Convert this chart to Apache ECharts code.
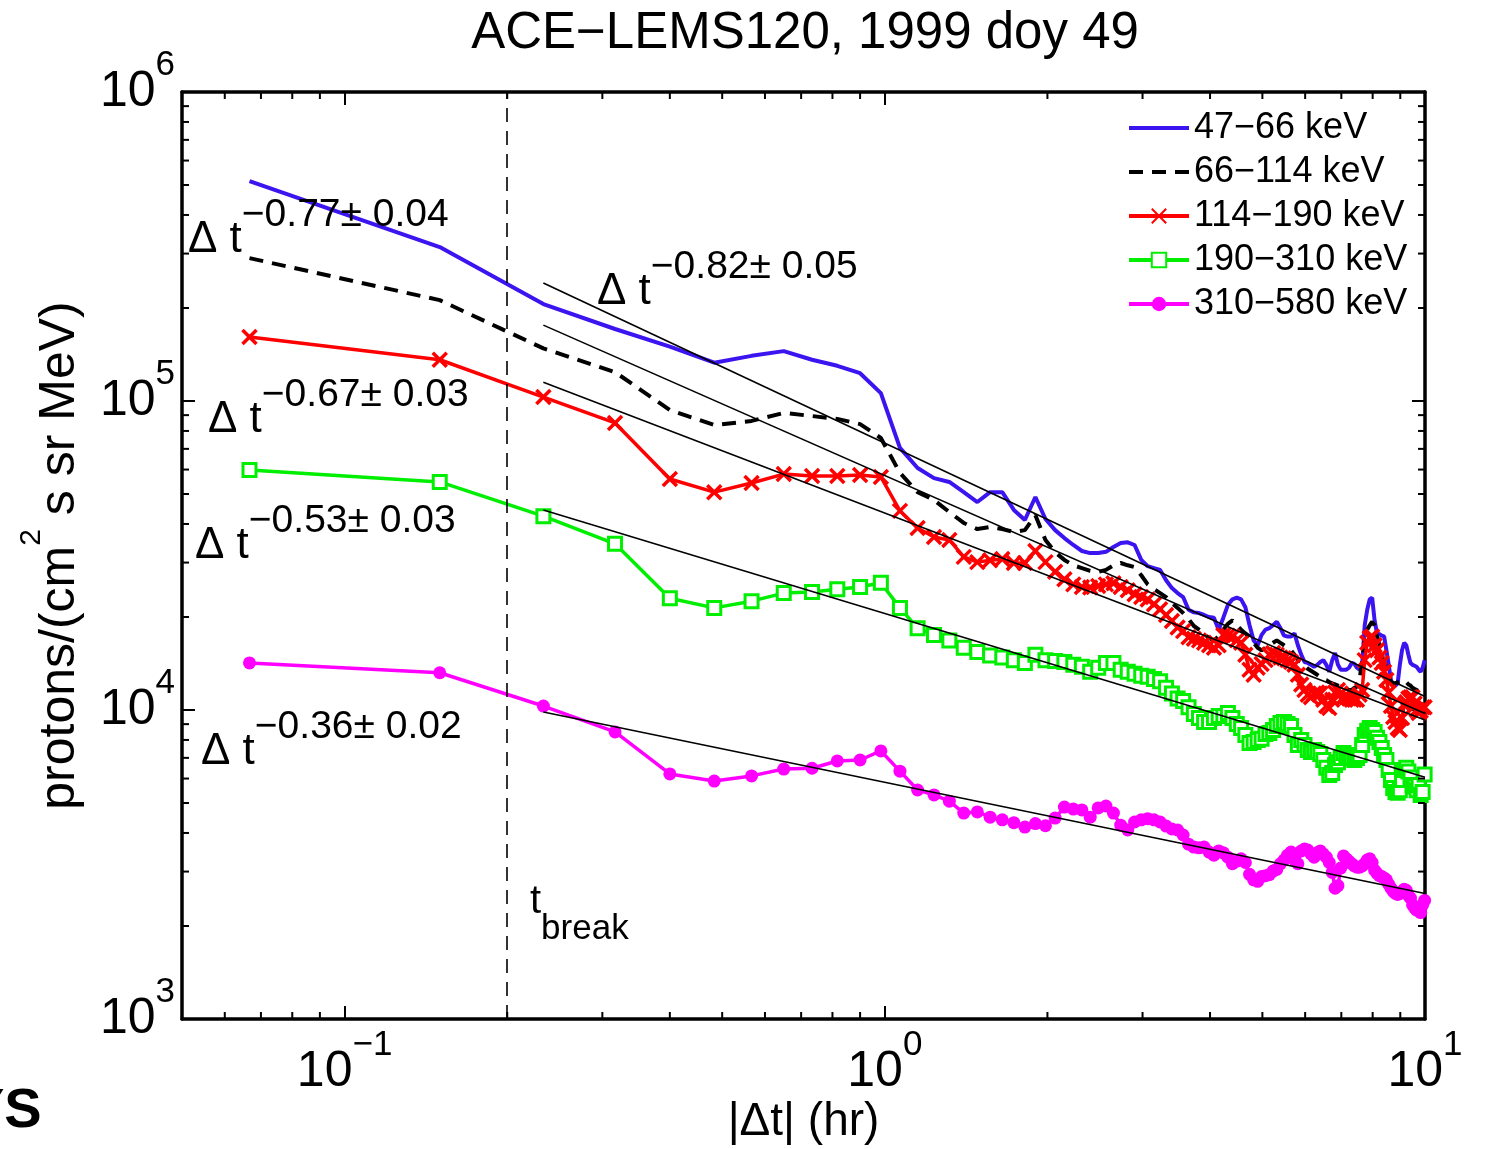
<!DOCTYPE html>
<html><head><meta charset="utf-8">
<script src="https://cdn.jsdelivr.net/npm/echarts@6/dist/echarts.min.js"></script>
<style>html,body{margin:0;padding:0;background:#fff}#c{width:1485px;height:1149px}</style>
</head><body><div id="c"></div>
<script>
// ---------- DATA ----------
const titleText = 'ACE\u2212LEMS120, 1999 doy 49';
const seriesNames = ['47\u221266 keV', '66\u2212114 keV', '114\u2212190 keV', '190\u2212310 keV', '310\u2212580 keV'];
// time after crossing, minutes
const minutes = [4,9,14,19,24,29,34,39,44,49,54,59,64,69,74,79,84,89,94,99,
104,109,114,119,124,129,134,139,144,149,154,159,164,169,174,179,184,189,194,199,
204,209,214,219,224,229,234,239,244,249,254,259,264,269,274,279,284,289,294,299,
304,309,314,319,324,329,334,339,344,349,354,359,364,369,374,379,384,389,394,399,
404,409,414,419,424,429,434,439,444,449,454,459,464,469,474,479,484,489,494,499,
504,509,514,519,524,529,534,539,544,549,554,559,564,569,574,579,584,589,594,599];
const flux47 = [515000,315000,206000,171000,150000,133000,140000,145000,136000,130000,
123000,106000,70500,60700,56300,54700,50700,47100,50700,50700,
44400,41200,48900,41500,38200,36000,34200,32700,32200,32200,
32500,33700,34700,34900,34200,30600,29200,28800,28400,26300,
24800,23900,23200,21100,20700,20600,20300,20000,19900,18200,
19900,21900,22800,23100,22800,21500,18800,16800,16200,17500,
18200,18400,18800,19300,18400,17400,17300,17300,17700,16200,
15100,14300,14200,14000,13800,14000,14300,14500,14000,13300,
14500,15300,14000,13500,13500,13500,13700,14200,14100,13700,
13500,14000,18800,21100,22800,23100,19500,17700,17600,17400,
17300,15600,14000,12500,11900,12000,12200,14000,15600,16500,
16200,15100,14200,14000,13900,13800,13500,13300,13700,14500];
const flux66 = [290000,212000,148000,124000,93500,83600,86200,91500,89400,87500,
84200,75900,58500,50700,47800,43700,40300,38500,39100,38500,
37700,38200,42700,35500,32400,30600,29400,28800,28200,28000,
28400,29400,29900,29400,29000,27300,25500,24600,23900,23200,
22200,21400,20600,19700,18700,18200,17600,17100,16800,17300,
18200,19000,19500,18800,18200,17700,17300,16500,15900,15600,
15900,16200,16500,16800,16500,16200,15900,15600,15100,14500,
14300,13900,13600,13400,13200,13000,12800,12600,12500,12300,
12200,12100,12000,11900,11800,11700,11600,11600,11800,11900,
12500,14500,16800,18200,18800,19300,18800,17400,16200,15100,
14200,13500,12800,12300,12100,12200,12300,12400,12500,12500,
12300,12100,12000,11800,11700,11600,11500,11400,11400,11300];
const flux114 = [161000,136000,103000,84900,55900,50700,54300,58000,57200,57200,
57600,56800,44100,38800,36300,35500,31300,30100,30500,30800,
29900,29900,32700,30100,28000,26500,25500,25000,24900,25200,
25500,25700,25000,24400,23700,23200,22800,22000,21200,20300,
19400,18500,18000,17200,17000,16800,16500,16200,15900,16200,
17500,17400,17300,16800,16500,15100,13500,13000,13700,14100,
14500,15100,15300,15100,14800,14700,14500,14300,14000,13000,
12100,11600,11200,11000,11300,11400,11300,10800,10300,10150,
10800,11400,11600,11300,11000,11000,10900,10800,10800,10800,
11200,11600,14500,16500,17100,17300,16200,15600,14800,14200,
13300,12500,11400,10300,9490,9150,8750,8620,9420,10400,
10600,10900,11000,11000,10500,10000,9780,9930,10200,10200];
const flux190 = [59800,54700,42400,34500,23000,21400,22500,23900,24100,24600,
25000,25800,21400,18400,17500,16800,15900,15400,15000,14800,
14500,14200,15100,14500,14400,14300,14000,13800,13300,13700,
14200,14200,13500,13300,13100,12900,12800,12600,12400,11800,
11300,10900,10700,10200,9710,9420,9150,9150,9420,9560,
9560,9780,9420,9010,8750,8300,7820,7880,8000,8070,
8360,8420,8620,8870,9080,9150,9010,8870,8300,7700,
8000,7700,7420,7310,7420,7310,7200,6890,6500,6160,
6250,6640,6780,6990,7260,7150,7050,6990,6890,6990,
7150,7700,8300,8560,8750,8620,8490,8130,7880,7530,
7150,6890,6390,5940,5590,5430,5400,5500,5940,6390,
6500,6320,6050,5720,5650,5500,5720,5310,5430,6180];
const flux310 = [14200,13200,10300,8490,6210,5890,6120,6440,6480,6840,
6890,7370,6340,5510,5310,5070,4640,4680,4500,4410,
4320,4180,4290,4220,4470,4850,4780,4750,4500,4820,
4890,4640,4240,4090,4340,4410,4450,4410,4340,4210,
4120,4090,3940,3680,3600,3580,3600,3470,3390,3500,
3450,3340,3180,3240,3300,3210,2940,2820,2790,2890,
2910,2930,3010,3050,3180,3270,3390,3470,3270,3180,
3500,3550,3520,3420,3340,3450,3500,3420,3340,3210,
2980,2650,2700,3080,3370,3300,3240,3180,3130,3100,
3100,3130,3180,3270,3300,3210,3030,2960,2910,2890,
2860,2820,2730,2650,2590,2550,2530,2550,2590,2630,
2610,2510,2460,2340,2290,2250,2290,2210,2340,2420];
// power-law fits: start/end x (hr) and values
const fitX = [0.2333, 10];
const fitStart = [241000, 176000, 115000, 44400, 9850];
const fitEnd = [11060, 9740, 9280, 6060, 2546];
const fitLabels = ['\u22120.82\u00b1 0.05', '\u22120.77\u00b1 0.04', '\u22120.67\u00b1 0.03', '\u22120.53\u00b1 0.03', '\u22120.36\u00b1 0.02'];
const tBreak = 0.2;
// axes
const X_MIN = 0.05, X_MAX = 10, Y_MIN = 1000, Y_MAX = 1000000;
const xMinorTicks = [0.06,0.07,0.08,0.09,0.2,0.3,0.4,0.5,0.6,0.7,0.8,0.9,2,3,4,5,6,7,8,9];
const yMinorTicks = [2000,3000,4000,5000,6000,7000,8000,9000,20000,30000,40000,50000,60000,70000,80000,90000,
  200000,300000,400000,500000,600000,700000,800000,900000];
const xTickExps = [-1, 0, 1];
const yTickExps = [3, 4, 5, 6];

// ---------- STYLE ----------
const F = 'Liberation Sans';
const BLUE = '#3c14f0', RED = '#ff0000', GREEN = '#00ee00', MAG = '#ff00ff';
const hours = minutes.map(m => m / 60);
const pair = vals => vals.map((v, i) => [hours[i], v]);
const minusStr = e => (e < 0 ? '\u2212' + (-e) : String(e));
function powLabel(exps) {
  return function (v) {
    const l = Math.log10(v), e = Math.round(l);
    if (Math.abs(l - e) > 1e-6 || exps.indexOf(e) < 0) return '';
    return '{b|10}{s|' + minusStr(e) + '}';
  };
}
const tickRich = {
  b: {fontSize: 50, lineHeight: 50, fontFamily: F, color: '#000'},
  s: {fontSize: 35, lineHeight: 88, fontFamily: F, color: '#000', verticalAlign: 'top'}
};
const axisLineStyle = {color: '#000', width: 3.5};
function xAx(pos, showLabel) {
  return {
    type: 'log', logBase: 10, min: X_MIN, max: X_MAX, position: pos,
    axisLine: {show: true, onZero: false, lineStyle: axisLineStyle},
    axisTick: {show: true, inside: true, length: 13, lineStyle: {color: '#000', width: 2}},
    splitLine: {show: false}, minorTick: {show: false},
    axisLabel: {show: showLabel, margin: 9, formatter: powLabel(xTickExps), rich: tickRich, hideOverlap: false,
      showMinLabel: true, showMaxLabel: true},
    name: showLabel ? '|\u0394t| (hr)' : '', nameLocation: 'middle', nameGap: 80, nameMoveOverlap: false,
    nameTextStyle: {fontSize: 46, fontFamily: F, color: '#000', lineHeight: 46}
  };
}
function yAx(pos, showLabel) {
  return {
    type: 'log', logBase: 10, min: Y_MIN, max: Y_MAX, position: pos,
    axisLine: {show: true, onZero: false, lineStyle: axisLineStyle},
    axisTick: {show: true, inside: true, length: 13, lineStyle: {color: '#000', width: 2}},
    splitLine: {show: false}, minorTick: {show: false},
    axisLabel: {show: showLabel, margin: 7, formatter: powLabel(yTickExps), rich: tickRich, hideOverlap: false,
      showMinLabel: true, showMaxLabel: true},
    name: showLabel ? 'protons/(cm{s|2} s sr MeV)' : '', nameLocation: 'middle', nameGap: 79, nameRotate: 90,
    nameMoveOverlap: false,
    nameTextStyle: {fontSize: 50, fontFamily: F, color: '#000', lineHeight: 50,
      rich: {s: {fontSize: 30, lineHeight: 86, fontFamily: F, color: '#000', verticalAlign: 'top'}}}
  };
}
const MINOR = 7;
const tickLine = (x1, y1, x2, y2) => ({type: 'line', shape: {x1, y1, x2, y2}, style: {stroke: '#000', lineWidth: 2}});

const series = [
  {name: seriesNames[0], type: 'line', data: pair(flux47), symbol: 'none', z: 3,
    lineStyle: {color: BLUE, width: 4}, itemStyle: {color: BLUE}},
  {name: seriesNames[1], type: 'line', data: pair(flux66), symbol: 'none', z: 3,
    lineStyle: {color: '#000', width: 4, type: [14, 9]}, itemStyle: {color: '#000'}},
  {name: seriesNames[2], type: 'line', data: pair(flux114), symbol: 'path://M0,0L10,10M10,0L0,10', symbolSize: 14, z: 3,
    lineStyle: {color: RED, width: 3.5}, itemStyle: {color: RED, borderColor: RED, borderWidth: 3.5}},
  {name: seriesNames[3], type: 'line', data: pair(flux190), symbol: 'rect', symbolSize: 13, z: 3,
    lineStyle: {color: GREEN, width: 3.5}, itemStyle: {color: '#fff', borderColor: GREEN, borderWidth: 3}},
  {name: seriesNames[4], type: 'line', data: pair(flux310), symbol: 'circle', symbolSize: 13, z: 3,
    lineStyle: {color: MAG, width: 3.5}, itemStyle: {color: MAG}}
];
fitStart.forEach((s, i) => {
  series.push({type: 'line', data: [[fitX[0], s], [fitX[1], fitEnd[i]]], symbol: 'none', silent: true, z: 4,
    lineStyle: {color: '#000', width: 1.6}});
});
series.push({type: 'line', data: [], silent: true, z: 2,
  markLine: {symbol: 'none', silent: true, label: {show: false},
    lineStyle: {color: '#000', width: 1.6, type: [14, 9]}, data: [{xAxis: tBreak}]}});
series.push({type: 'custom', silent: true, clip: false, z: 5, data: xMinorTicks.map(v => [v, Y_MIN]),
  renderItem: (p, api) => {
    const v = api.value(0), b = api.coord([v, Y_MIN]), t = api.coord([v, Y_MAX]);
    return {type: 'group', children: [tickLine(b[0], b[1], b[0], b[1] - MINOR), tickLine(t[0], t[1], t[0], t[1] + MINOR)]};
  }});
series.push({type: 'custom', silent: true, clip: false, z: 5, data: yMinorTicks.map(v => [X_MIN, v]),
  renderItem: (p, api) => {
    const v = api.value(1), l = api.coord([X_MIN, v]), r = api.coord([X_MAX, v]);
    return {type: 'group', children: [tickLine(l[0], l[1], l[0] + MINOR, l[1]), tickLine(r[0], r[1], r[0] - MINOR, r[1])]};
  }});

function powerText(x, y, sup) {
  return {type: 'text', x, y, z: 10, silent: true, style: {
    text: '{m|\u0394 t}{s|' + sup + '}', align: 'left', verticalAlign: 'middle', fill: '#000',
    fontFamily: F, fontSize: 44,
    rich: {m: {fontSize: 44, lineHeight: 44, fontFamily: F, fill: '#000'},
           s: {fontSize: 39, lineHeight: 88, fontFamily: F, fill: '#000', verticalAlign: 'top'}}}};
}
const graphics = [
  powerText(597, 292, fitLabels[0]),
  powerText(188, 240, fitLabels[1]),
  powerText(208, 420, fitLabels[2]),
  powerText(195, 546, fitLabels[3]),
  powerText(201, 752, fitLabels[4]),
  {type: 'text', x: 530, y: 902, z: 10, silent: true, style: {
    text: '{m|t}{b|break}', align: 'left', verticalAlign: 'middle', fill: '#000', fontFamily: F, fontSize: 40,
    rich: {m: {fontSize: 40, lineHeight: 40, fontFamily: F, fill: '#000'},
           b: {fontSize: 35, lineHeight: 89, fontFamily: F, fill: '#000', verticalAlign: 'bottom'}}}},
  {type: 'text', x: -33, y: 1084, z: 10, silent: true, style: {
    text: 'YS', fill: '#000', fontFamily: F, fontSize: 56, fontWeight: 'bold', align: 'left', verticalAlign: 'top'}}
];

const hideSym = {opacity: 0};
const chart = echarts.init(document.getElementById('c'), null, {renderer: 'canvas'});
chart.setOption({
  animation: false,
  backgroundColor: '#fff',
  textStyle: {fontFamily: F, color: '#000'},
  title: {text: titleText, left: 805, top: 8, padding: 0, textAlign: 'center',
    textStyle: {fontSize: 51, fontWeight: 'normal', fontFamily: F, color: '#000', lineHeight: 51}},
  grid: {left: 182, top: 92, width: 1243, height: 927, outerBoundsMode: 'none', containLabel: false},
  legend: {data: [
      {name: seriesNames[0], itemStyle: hideSym},
      {name: seriesNames[1], itemStyle: hideSym},
      {name: seriesNames[2]}, {name: seriesNames[3]}, {name: seriesNames[4]}],
    orient: 'vertical', left: 1127, top: 108, padding: 0, itemGap: 4,
    itemWidth: 60, itemHeight: 18, selectedMode: false, lineStyle: {width: 4},
    textStyle: {fontSize: 36, lineHeight: 40, fontFamily: F, color: '#000'}},
  xAxis: [xAx('bottom', true), xAx('top', false)],
  yAxis: [yAx('left', true), yAx('right', false)],
  series: series,
  graphic: graphics
});
</script></body></html>
